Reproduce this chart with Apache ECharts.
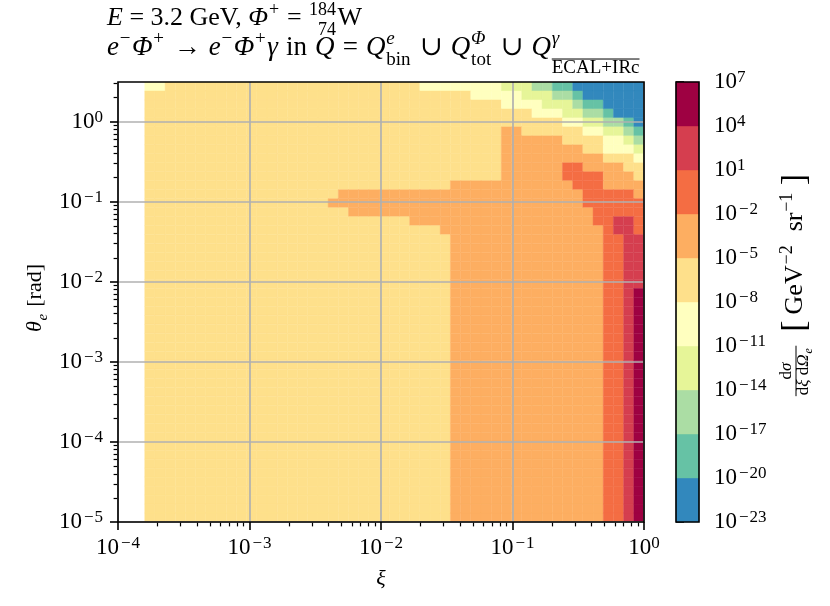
<!DOCTYPE html>
<html>
<head>
<meta charset="utf-8">
<script src="https://cdn.jsdelivr.net/npm/echarts@6/dist/echarts.min.js"></script>
<style>
  html, body { margin: 0; padding: 0; background: #fff; }
  #chart { width: 830px; height: 606px; }
</style>
</head>
<body>
<div id="chart"></div>
<script>
const FONT = '"Liberation Serif", "DejaVu Serif", serif'

// histogram binning (log spaced), xi from m_e/E up to 1, theta_e from 1e-5 up to pi
const xiMin = 1.597e-4
const xiMax = 1
const thetaMin = 1e-5
const thetaMax = Math.PI
const nXi = 49
const nTheta = 49

// level k of a cell: d sigma lies in [1e(-23+3k), 1e(-20+3k))
// rows from the top (largest theta) down, run-length coded "level*count" along xi,
// first number of each block = how many rows share that pattern
const rowBlocks = [
  [1, '4*2 5*25 4*8 3*3 2*2 1*2 0*7'],
  [1, '5*32 4*5 3*3 2*2 1*1 0*6'],
  [1, '5*35 4*4 3*3 2*1 1*2 0*4'],
  [1, '5*38 4*3 3*2 2*2 1*1 0*3'],
  [1, '5*41 4*2 3*2 2*2 1*1 0*1'],
  [1, '5*35 6*2 5*6 4*2 3*2 2*1 1*1'],
  [1, '5*35 6*6 5*4 4*2 3*1 2*1'],
  [1, '5*35 6*8 5*2 4*3 3*1'],
  [1, '5*35 6*10 5*3 4*1'],
  [1, '5*35 6*6 7*2 6*4 5*2'],
  [1, '5*35 6*6 7*4 6*3 5*1'],
  [1, '5*30 6*12 7*3 6*4'],
  [1, '5*19 6*24 7*5 6*1'],
  [1, '5*18 6*25 7*6'],
  [1, '5*20 6*24 7*5'],
  [1, '5*26 6*18 7*2 8*2 7*1'],
  [1, '5*29 6*16 7*1 8*2 7*1'],
  [6, '5*30 6*15 7*2 8*2'],
  [26, '5*30 6*15 7*2 8*1 9*1']
]

// colour bar
const levelExponents = [-23, -20, -17, -14, -11, -8, -5, -2, 1, 4, 7]
const levelColors = ['#3288bd', '#66c2a5', '#abdda4', '#e6f598', '#ffffbf',
  '#fee08b', '#fdae61', '#f46d43', '#d53e4f', '#9e0142']

const xDecades = [1e-4, 1e-3, 1e-2, 1e-1, 1]
const yDecades = [1e-5, 1e-4, 1e-3, 1e-2, 1e-1, 1]
const cbarTicks = levelExponents.map(e => Math.pow(10, e))

const xMinor = []
for (let d = -4; d < 0; d++) for (let k = 2; k <= 9; k++) xMinor.push(k * Math.pow(10, d))
const yMinor = []
for (let d = -5; d <= 0; d++) for (let k = 2; k <= 9; k++) {
  const v = k * Math.pow(10, d)
  if (v < thetaMax) yMinor.push(v)
}

// bin edges
const logEdges = (a, b, n) => {
  const la = Math.log10(a), lb = Math.log10(b)
  return Array.from({ length: n + 1 }, (_, i) => Math.pow(10, la + (lb - la) * i / n))
}
const xEdges = logEdges(xiMin, xiMax, nXi)
const yEdges = logEdges(thetaMin, thetaMax, nTheta)

function decodeRow(s) {
  const out = []
  s.split(' ').forEach(run => {
    const [lv, n] = run.split('*').map(Number)
    for (let k = 0; k < n; k++) out.push(lv)
  })
  return out
}

const cells = []
let r = 0
rowBlocks.forEach(([count, runs]) => {
  const row = decodeRow(runs)
  for (let c = 0; c < count; c++, r++) {
    const j = nTheta - 1 - r
    row.forEach((lv, i) => cells.push([xEdges[i], xEdges[i + 1], yEdges[j], yEdges[j + 1], lv]))
  }
})

const cbarData = levelColors.map((c, k) =>
  [0, 1, Math.pow(10, levelExponents[k]), Math.pow(10, levelExponents[k + 1]), k])

// ---- text helpers (math-like labels) ----
const mctx = document.createElement('canvas').getContext('2d')
const fnt = (s, it) => (it ? 'italic ' : '') + s + 'px ' + FONT
const tw = (t, s, it) => { mctx.font = fnt(s, it); return mctx.measureText(t).width }

function txt(t, x, base, s, it, align) {
  return {
    type: 'text', x: x, y: base - 0.34 * s,
    style: {
      text: t, font: fnt(s, it), fill: '#000',
      align: align || 'left', verticalAlign: 'middle',
      textAlign: align || 'left', textVerticalAlign: 'middle'
    }
  }
}

// pieces: {t} plain run, {gap} extra space, {sup, sub} stacked scripts
function mathRow(pieces, x0, base, S, gapSize) {
  const els = []
  const small = Math.round(S * 0.7)
  let x = x0
  pieces.forEach(p => {
    if (p.gap) {
      x += gapSize || 0
    } else if (p.t !== undefined) {
      const s = p.s || S
      els.push(txt(p.t, x, base + (p.dy || 0), s, p.it))
      x += tw(p.t, s, p.it)
    } else {
      const both = p.sup && p.sub
      const wSup = p.sup ? tw(p.sup.t, small, p.sup.it) : 0
      const wSub = p.sub ? tw(p.sub.t, small, p.sub.it) : 0
      const w = Math.max(wSup, wSub)
      const xo = x + (p.kern || 0.8)
      if (p.sup) els.push(txt(p.sup.t, p.right ? xo + w - wSup : xo, base - S * 0.42, small, p.sup.it))
      if (p.sub) {
        const yb = base + S * (p.sub.over ? 0.66 : both ? 0.36 : 0.22)
        const xs = p.right ? xo + w - wSub : xo
        els.push(txt(p.sub.t, xs, yb, small, p.sub.it))
        if (p.sub.over) {
          const yl = yb - small * 0.7 - 2.5
          els.push({ type: 'line', shape: { x1: xs, y1: yl, x2: xs + wSub, y2: yl }, style: { stroke: '#000', lineWidth: 1 } })
        }
      }
      x = xo + w + 1.5
    }
  })
  return { els, width: x - x0 }
}

// lay a row out so that it spans `target` pixels, spreading the slack over the gaps
function fitRow(pieces, x0, base, S, target, maxGap) {
  const nGaps = pieces.filter(p => p.gap).length
  const w0 = mathRow(pieces, x0, base, S, 0).width
  const g = Math.max(0, Math.min(maxGap, (target - w0) / Math.max(1, nGaps)))
  return mathRow(pieces, x0, base, S, g)
}

const ST = 26   // title size
const S = 22    // axis label size
const G = { gap: true }
const title1 = mathRow([
  { t: 'E', it: true }, { t: ' = 3.2 GeV, ' }, { t: 'Φ', it: true }, { sup: { t: '+' } },
  { t: ' = ' }, { sup: { t: '184' }, sub: { t: '74' }, right: true }, { t: 'W' }
], 107, 27, ST)
const title2 = fitRow([
  { t: 'e', it: true }, { sup: { t: '−' } }, { t: 'Φ', it: true }, { sup: { t: '+' } }, G, { t: ' → ' }, G,
  { t: 'e', it: true }, { sup: { t: '−' } }, { t: 'Φ', it: true }, { sup: { t: '+' } }, { t: 'γ', it: true },
  G, { t: ' in ' }, G, { t: 'Q', it: true }, G, { t: ' = ' }, G,
  { t: 'Q', it: true }, { sup: { t: 'e', it: true }, sub: { t: 'bin' } }, G, { t: ' ∪ ' }, G,
  { t: 'Q', it: true }, { sup: { t: 'Φ', it: true }, sub: { t: 'tot' } }, G, { t: ' ∪ ' }, G,
  { t: 'Q', it: true }, { sup: { t: 'γ', it: true }, sub: { t: 'ECAL+IRc', over: true } }
], 107, 57, 27, 534, 5)

function rotated(row, cx, cy) {
  return {
    type: 'group', x: cx, y: cy, rotation: Math.PI / 2,
    children: [{ type: 'group', x: -row.width / 2, y: 0, children: row.els }]
  }
}

const yTitle = mathRow([{ t: 'θ', it: true }, { sub: { t: 'e', it: true } }, { t: ' [rad]' }], 0, 7, S)

// colour bar label: fraction + units
const fs = 17
const us = 26
const numPieces = [{ t: 'd' }, { t: 'σ', it: true }]
const denPieces = [{ t: 'd' }, { t: 'ξ', it: true }, { t: ' d' }, { t: 'Ω', it: true }, { sub: { t: 'e', it: true } }]
const wNum = mathRow(numPieces, 0, 0, fs).width
const wDen = mathRow(denPieces, 0, 0, fs).width
const wf = Math.max(wNum, wDen) + 2
const unitRow = mathRow([
  { t: '[', s: 34, dy: 3 }, G, { t: 'GeV' }, { sup: { t: '−2' } }, G, { t: ' sr' }, { sup: { t: '−1' } }, G, { t: ']', s: 34, dy: 3 }
], wf + 14, 8, us, 6)
const cbEls = []
mathRow(numPieces, (wf - wNum) / 2, -4, fs).els.forEach(e => cbEls.push(e))
mathRow(denPieces, (wf - wDen) / 2, 13, fs).els.forEach(e => cbEls.push(e))
cbEls.push({ type: 'line', shape: { x1: 0, y1: 0, x2: wf, y2: 0 }, style: { stroke: '#000', lineWidth: 1 } })
unitRow.els.forEach(e => cbEls.push(e))
const cbTitle = { els: cbEls, width: wf + 14 + unitRow.width }

// ---- axis label formatter ----
const pow10 = v => {
  const e = Math.round(Math.log10(v))
  return e < 0 ? '{b|10}{m|\u2212}{s|' + (-e) + '}' : '{b|10}{s|' + e + '}'
}
const labelRich = {
  b: { fontFamily: FONT, fontSize: 23, color: '#000', lineHeight: 26 },
  m: { fontFamily: FONT, fontSize: 17, color: '#000', lineHeight: 13, verticalAlign: 'top', padding: [0, 1, 0, 2] },
  s: { fontFamily: FONT, fontSize: 17, color: '#000', lineHeight: 13, verticalAlign: 'top' }
}
const gridLine = { show: true, lineStyle: { color: '#b0b0b0', width: 1.7 } }
const majorTick = { show: true, inside: false, length: 8, lineStyle: { color: '#000', width: 1.6 } }
const minorTick = { show: true, inside: false, length: 4.4, lineStyle: { color: '#000', width: 1.2 } }

const cellItem = (params, api) => {
  const a = api.coord([api.value(0), api.value(2)])
  const b = api.coord([api.value(1), api.value(3)])
  const c = levelColors[api.value(4)]
  return {
    type: 'rect',
    shape: { x: a[0], y: b[1], width: b[0] - a[0], height: a[1] - b[1] },
    style: { fill: c, stroke: c, lineWidth: 0.4 }
  }
}

const chart = echarts.init(document.getElementById('chart'), null, { renderer: 'canvas' })

chart.setOption({
  animation: false,
  backgroundColor: '#fff',
  grid: [
    { left: 118, top: 82, width: 526, height: 440, show: true, borderColor: '#000', borderWidth: 1.6, backgroundColor: 'transparent', z: 10 },
    { left: 676, top: 82, width: 23, height: 440, show: true, borderColor: '#000', borderWidth: 1.6, backgroundColor: 'transparent', z: 10 }
  ],
  xAxis: [
    {
      type: 'log', gridIndex: 0, min: 1e-4, max: 1, position: 'bottom', z: 5,
      axisLine: { show: false },
      axisTick: Object.assign({ customValues: xDecades }, majorTick),
      axisLabel: { customValues: xDecades, formatter: pow10, rich: labelRich, margin: 13 },
      splitLine: gridLine
    },
    {
      type: 'log', gridIndex: 0, min: 1e-4, max: 1, position: 'bottom',
      axisLine: { show: false },
      axisTick: Object.assign({ customValues: xMinor }, minorTick),
      axisLabel: { show: false }, splitLine: { show: false }
    },
    { type: 'value', gridIndex: 1, min: 0, max: 1, show: false, splitLine: { show: false } }
  ],
  yAxis: [
    {
      type: 'log', gridIndex: 0, min: thetaMin, max: thetaMax, position: 'left', z: 5,
      axisLine: { show: false },
      axisTick: Object.assign({ customValues: yDecades }, majorTick),
      axisLabel: { customValues: yDecades, formatter: pow10, rich: labelRich, margin: 15 },
      splitLine: gridLine
    },
    {
      type: 'log', gridIndex: 0, min: thetaMin, max: thetaMax, position: 'left',
      axisLine: { show: false },
      axisTick: Object.assign({ customValues: yMinor }, minorTick),
      axisLabel: { show: false }, splitLine: { show: false }
    },
    {
      type: 'log', gridIndex: 1, min: 1e-23, max: 1e7, position: 'right',
      axisLine: { show: false },
      axisTick: Object.assign({ customValues: cbarTicks }, majorTick),
      axisLabel: { customValues: cbarTicks, formatter: pow10, rich: labelRich, margin: 15 },
      splitLine: { show: false }
    }
  ],
  series: [
    {
      type: 'custom', xAxisIndex: 0, yAxisIndex: 0, data: cells, clip: true,
      encode: { x: [0, 1], y: [2, 3] },
      renderItem: cellItem
    },
    {
      type: 'custom', xAxisIndex: 2, yAxisIndex: 2, data: cbarData,
      encode: { x: [0, 1], y: [2, 3] },
      renderItem: cellItem
    }
  ],
  graphic: {
    elements: [
      { type: 'group', children: title1.els },
      { type: 'group', children: title2.els },
      rotated(yTitle, 36, 298),
      rotated(cbTitle, 796, 285),
      txt('ξ', 381, 587, S, true, 'center')
    ]
  }
})
</script>
</body>
</html>
